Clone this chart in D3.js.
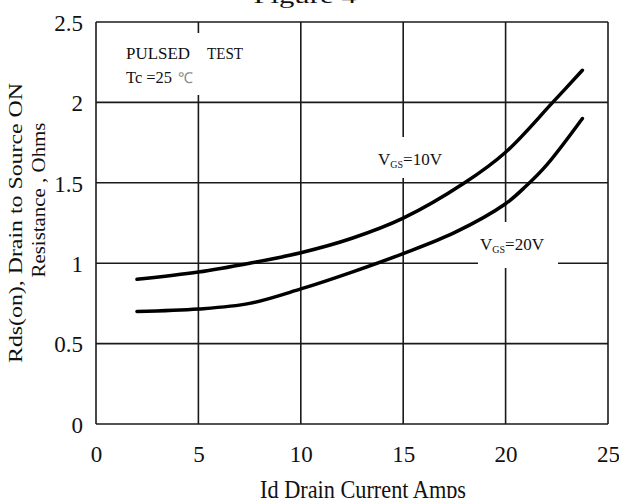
<!DOCTYPE html>
<html>
<head>
<meta charset="utf-8">
<script src="https://cdn.jsdelivr.net/npm/d3@7"></script>
<style>
  html, body { margin: 0; padding: 0; background: #fff; }
  svg { display: block; }
  text { font-family: "Liberation Serif", "Times New Roman", serif; fill: #111; }
</style>
</head>
<body>
<script>
// ---- data ----
const xTicks = [0, 5, 10, 15, 20, 25];
const yTicks = [0, 0.5, 1, 1.5, 2, 2.5];
const xTickLabels = ["0", "5", "10", "15", "20", "25"];
const yTickLabels = ["0", "0.5", "1", "1.5", "2", "2.5"];

const idVgs10 = [2, 5, 7.5, 10, 12.5, 15, 18, 20, 22.3, 23.75];
const rdsVgs10 = [0.90, 0.945, 1.0, 1.065, 1.155, 1.28, 1.5, 1.69, 2.0, 2.2];

const idVgs20 = [2, 5, 7.5, 10, 12.5, 15, 17.5, 20, 21, 22, 23.75];
const rdsVgs20 = [0.70, 0.715, 0.75, 0.84, 0.945, 1.06, 1.19, 1.37, 1.48, 1.61, 1.9];

const seriesNames = ["VGS=10V", "VGS=20V"];

// ---- layout ----
const W = 619, H = 498;
const svg = d3.select("body").append("svg").attr("width", W).attr("height", H);

const x = d3.scaleLinear().domain([0, 25]).range([96, 608]);
const y = d3.scaleLinear().domain([0, 2.5]).range([424, 22]);

// cut-off title at top
svg.append("text").attr("x", 305).attr("y", 3).attr("text-anchor", "middle")
  .attr("font-size", 22).attr("textLength", 103).attr("lengthAdjust", "spacingAndGlyphs")
  .text("Figure 4");

// grid
const grid = svg.append("g").attr("stroke", "#1a1a1a").attr("stroke-width", 1.6);
grid.selectAll("line.v").data(xTicks).join("line")
  .attr("x1", d => x(d)).attr("x2", d => x(d))
  .attr("y1", y(2.5)).attr("y2", y(0));
grid.selectAll("line.h").data(yTicks).join("line")
  .attr("x1", x(0)).attr("x2", x(25))
  .attr("y1", d => y(d)).attr("y2", d => y(d));

// label background boxes (gaps in grid)
const bg = svg.append("g").attr("fill", "#fff");
bg.append("rect").attr("x", 120).attr("y", 33).attr("width", 130).attr("height", 62);
bg.append("rect").attr("x", 370).attr("y", 137).attr("width", 75).attr("height", 41);
bg.append("rect").attr("x", 478).attr("y", 222).attr("width", 80).attr("height", 46);

// axes tick labels
const yAxis = d3.axisLeft(y).tickValues(yTicks).tickSize(0).tickPadding(0)
  .tickFormat((d, i) => yTickLabels[i]);
const gy = svg.append("g").attr("transform", "translate(83,1)").call(yAxis);
gy.select(".domain").remove();
gy.selectAll("text").attr("font-size", 23).attr("font-family", "Liberation Serif").attr("fill", "#111");

const xAxis = d3.axisBottom(x).tickValues(xTicks).tickSize(0).tickPadding(0)
  .tickFormat((d, i) => xTickLabels[i]);
const gx = svg.append("g").attr("transform", "translate(0,446)").call(xAxis);
gx.select(".domain").remove();
gx.selectAll("text").attr("font-size", 23).attr("font-family", "Liberation Serif").attr("fill", "#111");

// axis titles
svg.append("text").attr("transform", "translate(363,498) scale(1,1.15)").attr("text-anchor", "middle")
  .attr("font-size", 22).attr("textLength", 206).attr("lengthAdjust", "spacingAndGlyphs")
  .text("Id  Drain Current Amps");

svg.append("text").attr("transform", "translate(22,223) rotate(-90)").attr("text-anchor", "middle")
  .attr("font-size", 19).attr("textLength", 280).attr("lengthAdjust", "spacingAndGlyphs")
  .text("Rds(on), Drain to Source ON");
svg.append("text").attr("transform", "translate(45,200) rotate(-90)").attr("text-anchor", "middle")
  .attr("font-size", 19).attr("textLength", 155).attr("lengthAdjust", "spacingAndGlyphs")
  .text("Resistance , Ohms");

// annotations
svg.append("text").attr("x", 126).attr("y", 59).attr("font-size", 17)
  .attr("textLength", 64).attr("lengthAdjust", "spacingAndGlyphs").text("PULSED");
svg.append("text").attr("x", 207).attr("y", 59).attr("font-size", 17)
  .attr("textLength", 36).attr("lengthAdjust", "spacingAndGlyphs").text("TEST");
svg.append("text").attr("x", 126).attr("y", 83).attr("font-size", 16)
  .attr("textLength", 46).attr("lengthAdjust", "spacingAndGlyphs").text("Tc =25");
svg.append("text").attr("x", 178).attr("y", 83).attr("font-size", 15)
  .style("fill", "#888").text("℃");

function vgsLabel(px, py, name) {
  const t = svg.append("text").attr("x", px).attr("y", py).attr("font-size", 17);
  t.append("tspan").text("V");
  t.append("tspan").attr("font-size", 10).attr("dy", 3).text("GS");
  t.append("tspan").attr("dy", -3).text(name.replace("VGS", ""));
}
vgsLabel(378, 165, seriesNames[0]);
vgsLabel(480, 250, seriesNames[1]);

// curves
const line = d3.line().x(d => x(d[0])).y(d => y(d[1])).curve(d3.curveCatmullRom.alpha(0.5));
const s10 = idVgs10.map((v, i) => [v, rdsVgs10[i]]);
const s20 = idVgs20.map((v, i) => [v, rdsVgs20[i]]);
svg.selectAll("path.curve").data([s10, s20]).join("path")
  .attr("class", "curve")
  .attr("d", line)
  .attr("fill", "none").attr("stroke", "#000").attr("stroke-width", 3.5)
  .attr("stroke-linecap", "round");
</script>
</body>
</html>
